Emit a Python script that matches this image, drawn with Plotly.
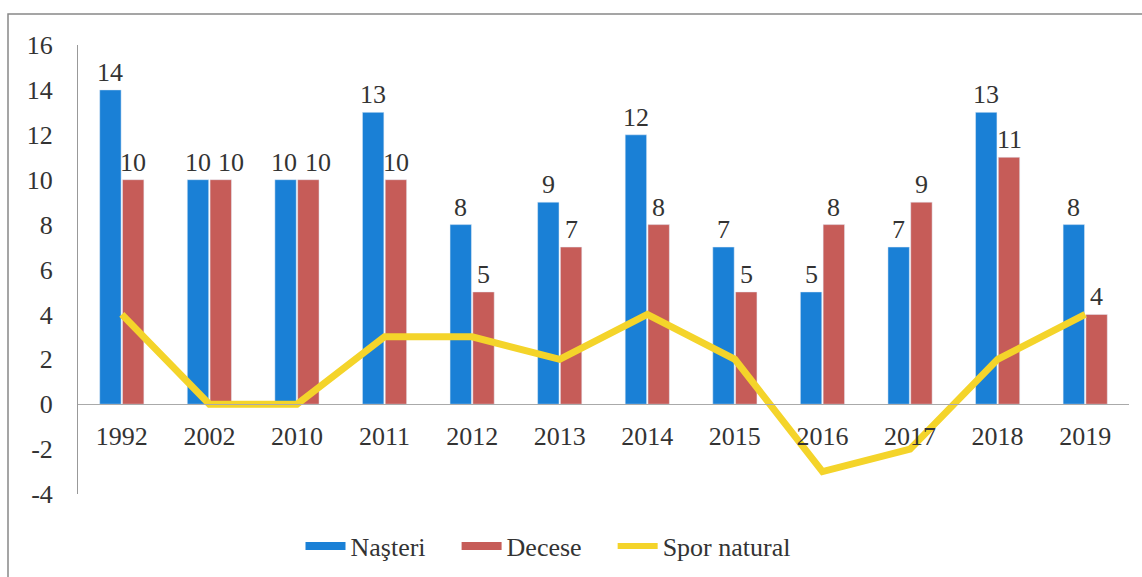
import plotly.graph_objects as go

years = ["1992", "2002", "2010", "2011", "2012", "2013", "2014", "2015", "2016", "2017", "2018", "2019"]
nasteri = [14, 10, 10, 13, 8, 9, 12, 7, 5, 7, 13, 8]
decese = [10, 10, 10, 10, 5, 7, 8, 5, 8, 9, 11, 4]
spor = [4, 0, 0, 3, 3, 2, 4, 2, -3, -2, 2, 4]
y_ticks = [-4, -2, 0, 2, 4, 6, 8, 10, 12, 14, 16]
y_tick_text = ["-4", "-2", "0", "2", "4", "6", "8", "10", "12", "14", "16"]

BLUE = "#1a80d6"
RED = "#c65c58"
YELLOW = "#f4d42a"
FONT = "Liberation Serif"
TXT = "#333333"
FS = 26
GAP = "\u00a0" * 4

fig = go.Figure()
fig.add_trace(go.Bar(x=years, y=nasteri, name="Naşteri", marker_color=BLUE,
                     showlegend=False, hoverinfo="skip"))
fig.add_trace(go.Bar(x=years, y=decese, name="Decese", marker_color=RED,
                     showlegend=False, hoverinfo="skip"))
fig.add_trace(go.Scatter(x=years, y=spor, name="Spor natural", mode="lines",
                         line=dict(color=YELLOW, width=7), showlegend=False))
# legend proxies
fig.add_trace(go.Scatter(x=[None], y=[None], mode="lines", name="Naşteri" + GAP,
                         line=dict(color=BLUE, width=8)))
fig.add_trace(go.Scatter(x=[None], y=[None], mode="lines", name="Decese" + GAP,
                         line=dict(color=RED, width=8)))
fig.add_trace(go.Scatter(x=[None], y=[None], mode="lines", name="Spor natural",
                         line=dict(color=YELLOW, width=6)))

# value labels above bars (bar centres are offset ±11.4 px from category centre)
extra_shift = {("d", "2002"): 10, ("d", "2010"): 10, ("n", "2010"): -2}
annotations = []
for key, vals, base in (("n", nasteri, -11.4), ("d", decese, 11.4)):
    for i, (yr, v) in enumerate(zip(years, vals)):
        annotations.append(dict(
            x=i, y=v, xref="x", yref="y", text=str(v), showarrow=False,
            xanchor="center", yanchor="bottom", yshift=1,
            xshift=base + extra_shift.get((key, yr), 0),
            font=dict(family=FONT, size=FS, color=TXT)))

fig.update_layout(
    width=1142, height=577,
    margin=dict(l=78, r=13, t=45, b=83, autoexpand=False),
    paper_bgcolor="white", plot_bgcolor="white",
    barmode="group", bargap=0.48, bargroupgap=0.06,
    font=dict(family=FONT, size=FS, color=TXT),
    legend=dict(orientation="h", x=(548 - 78) / 1051, xanchor="center",
                y=(494 - 546) / 449, yanchor="middle",
                font=dict(family=FONT, size=FS, color=TXT), itemwidth=40,
                tracegroupgap=0),
    xaxis=dict(type="category", categoryorder="array", categoryarray=years,
               range=[-0.5, len(years) - 0.5],
               anchor="free", position=0.2, showline=True, linecolor="#aaaaaa",
               linewidth=1, ticks="", showgrid=False, ticklabelstandoff=9,
               tickfont=dict(family=FONT, size=FS, color=TXT)),
    yaxis=dict(range=[-4, 16], tickvals=y_ticks, ticktext=y_tick_text,
               showgrid=False, zeroline=False,
               showline=True, linecolor="#999999", linewidth=1, ticks="",
               tickfont=dict(family=FONT, size=FS, color=TXT), ticklabelstandoff=19),
    annotations=annotations,
    shapes=[dict(type="rect", xref="paper", yref="paper",
                 x0=(8 - 78) / 1051, x1=(1150 - 78) / 1051,
                 y0=(494 - 590) / 449, y1=(494 - 14) / 449,
                 line=dict(color="#888888", width=1.5), fillcolor="rgba(0,0,0,0)")],
)

fig.write_html("out.html", config={"displayModeBar": False},
               post_script="document.body.style.margin='0';")
